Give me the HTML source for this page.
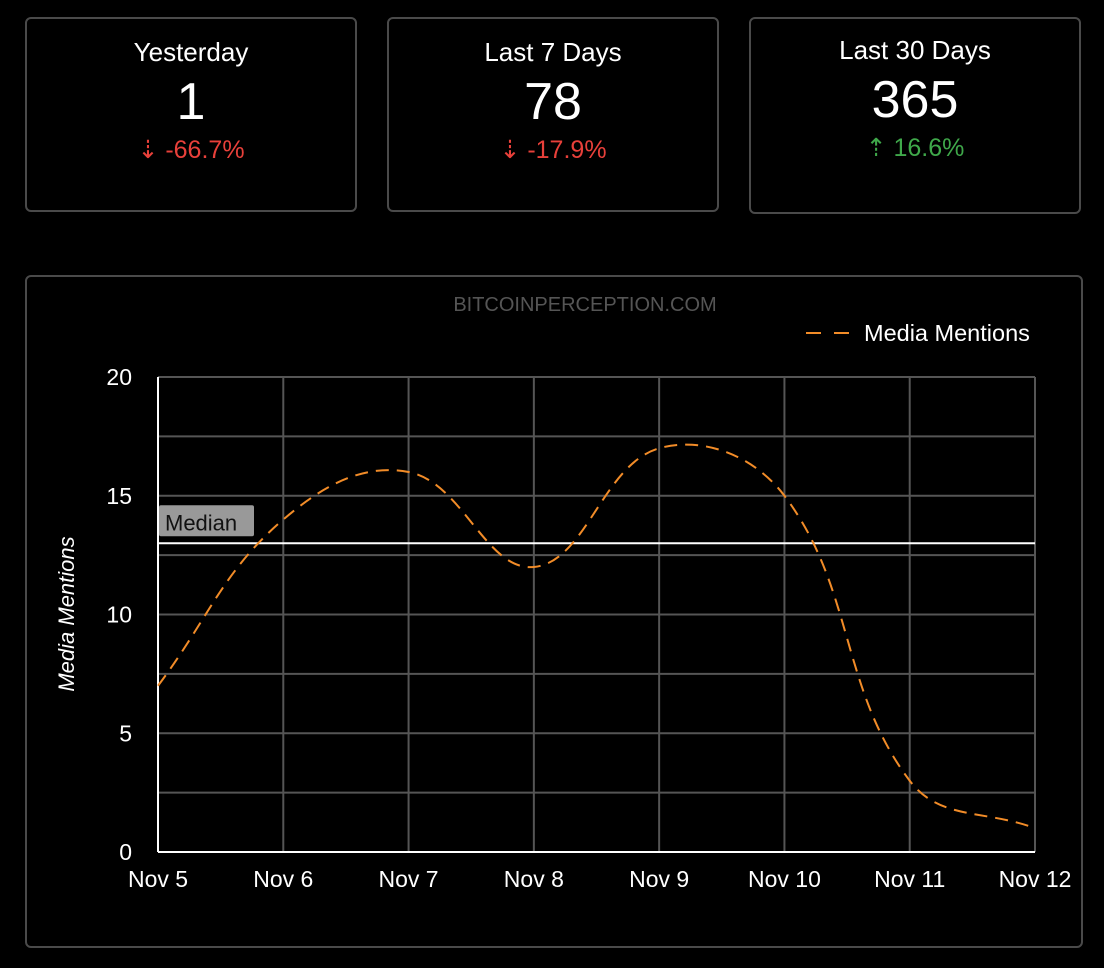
<!DOCTYPE html>
<html><head><meta charset="utf-8"><style>
body{margin:0;width:1104px;height:968px;background:#000;font-family:"Liberation Sans",sans-serif;color:#fff;position:relative;overflow:hidden}
.card{position:absolute;top:17px;height:195px;width:332px;border:2px solid #4a4a4a;border-radius:6px;box-sizing:border-box;text-align:center}
.t{position:absolute;top:18px;width:100%;font-size:26px}
.v{position:absolute;top:53px;width:100%;font-size:52px}
.c{position:absolute;top:116px;width:100%;font-size:25px}
.dn{color:#e8403a}.up{color:#3fa84a}
#box{position:absolute;left:25px;top:275px;width:1058px;height:673px;border:2px solid #4a4a4a;border-radius:6px;box-sizing:border-box}
</style></head><body>
<div class="card" style="left:25px"><div class="t">Yesterday</div><div class="v">1</div><div class="c dn">⇣ -66.7%</div></div>
<div class="card" style="left:387px"><div class="t">Last 7 Days</div><div class="v">78</div><div class="c dn">⇣ -17.9%</div></div>
<div class="card" style="left:749px;height:197px"><div class="t" style="top:16px">Last 30 Days</div><div class="v" style="top:51px">365</div><div class="c up" style="top:114px">⇡ 16.6%</div></div>
<div id="box"></div>
<svg id="ch" width="1104" height="968" style="position:absolute;left:0;top:0"></svg>
<script>
const categories=["Nov 5","Nov 6","Nov 7","Nov 8","Nov 9","Nov 10","Nov 11","Nov 12"];
const mentions=[7,14,16,12,17,15,3,1];
const yTicks=[0,5,10,15,20];
const medianValue=13;
const svg=document.getElementById('ch');
const NS='http://www.w3.org/2000/svg';
const X0=158,X1=1035,Y0=852,Y1=377,YMAX=20;
const x=i=>X0+(X1-X0)*i/(categories.length-1);
const y=v=>Y0-(Y0-Y1)*v/YMAX;
function el(t,a,txt){const e=document.createElementNS(NS,t);for(const k in a)e.setAttribute(k,a[k]);if(txt!==undefined)e.textContent=txt;svg.appendChild(e);return e;}
for(let v=0;v<=YMAX;v+=2.5){const g=el('line',{x1:X0,x2:X1,y1:y(v),y2:y(v),stroke:'#555','stroke-width':2});

}
categories.forEach((c,i)=>{const g=el('line',{x1:x(i),x2:x(i),y1:Y1,y2:Y0,stroke:'#555','stroke-width':2});


const t=el('text',{x:x(i),y:Y0+35,'text-anchor':'middle','font-size':23,fill:'#fff'},c);

});
yTicks.forEach(v=>{const t=el('text',{x:X0-26,y:y(v)+8,'text-anchor':'end','font-size':23,fill:'#fff'},v);

});
const ax=el('line',{x1:X0,x2:X0,y1:Y1,y2:Y0,stroke:'#fff','stroke-width':2});


const ax2=el('line',{x1:X0,x2:X1,y1:Y0,y2:Y0,stroke:'#fff','stroke-width':2});


const yt=el('text',{x:0,y:0,transform:'translate(74,614) rotate(-90)','text-anchor':'middle','font-size':22,'font-style':'italic',fill:'#fff'},'Media Mentions');


const ml=el('line',{x1:X0,x2:X1,y1:y(medianValue),y2:y(medianValue),stroke:'#fff','stroke-width':2});


const mb=el('rect',{x:159,y:y(medianValue)-38,width:95,height:31,fill:'#999',rx:2});


const mt=el('text',{x:165,y:y(medianValue)-13,'font-size':22,fill:'#111'},'Median');


const pts=mentions.map((v,i)=>[x(i),y(v)]);const T=0.4;
let d=`M${pts[0][0]},${pts[0][1]}`;
const cps=pts.map((p,i)=>{const pr=pts[Math.max(0,i-1)],nx=pts[Math.min(pts.length-1,i+1)];
const d01=Math.hypot(p[0]-pr[0],p[1]-pr[1]),d12=Math.hypot(nx[0]-p[0],nx[1]-p[1]);
let fa=d01/(d01+d12)||0,fb=d12/(d01+d12)||0;fa*=T;fb*=T;
return{pv:[p[0]-fa*(nx[0]-pr[0]),p[1]-fa*(nx[1]-pr[1])],nx:[p[0]+fb*(nx[0]-pr[0]),p[1]+fb*(nx[1]-pr[1])]};});
for(let i=1;i<pts.length;i++){const a=cps[i-1].nx,b=cps[i].pv;d+=` C${a[0]},${a[1]} ${b[0]},${b[1]} ${pts[i][0]},${pts[i][1]}`;}
const ln=el('path',{d,fill:'none',stroke:'#f28c28','stroke-width':2,'stroke-dasharray':'13,8'});


const ti=el('text',{x:585,y:311,'text-anchor':'middle','font-size':20,fill:'#555'},'BITCOINPERCEPTION.COM');


const lg=el('line',{x1:806,x2:852,y1:333,y2:333,stroke:'#f28c28','stroke-width':2,'stroke-dasharray':'15,13'});


const lt=el('text',{x:864,y:341,'font-size':23.5,fill:'#fff'},'Media Mentions');


</script>
</body></html>
